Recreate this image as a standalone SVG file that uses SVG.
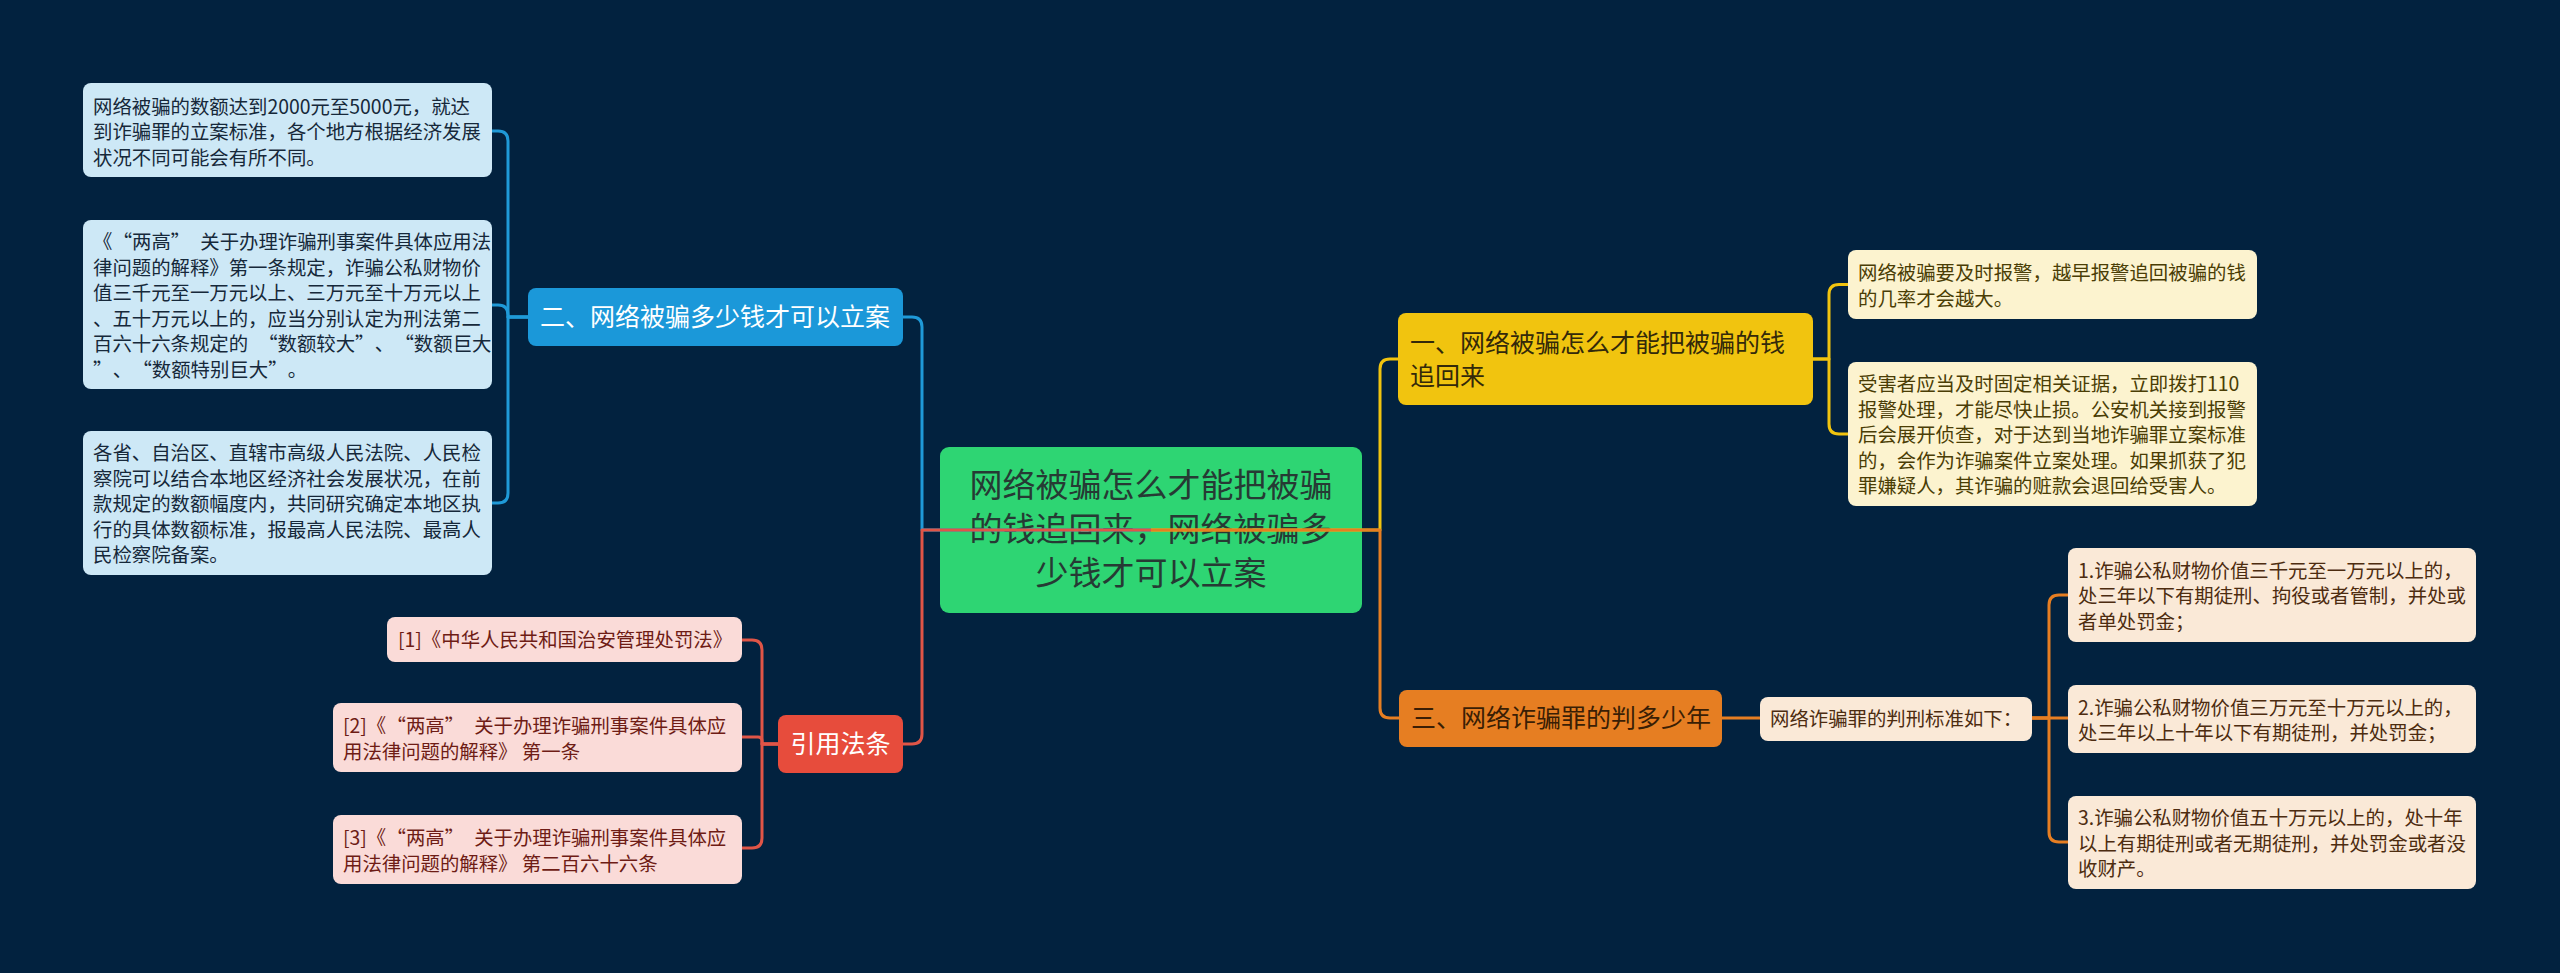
<svg xmlns="http://www.w3.org/2000/svg" width="2560" height="973" viewBox="0 0 2560 973">
<style>
text{font-family:"Noto Sans CJK SC","Noto Sans",sans-serif;}
.leaf{font-size:19.4px;}
.br{font-size:25px;}
.ctr{font-size:33px;fill:#263a34;}
.lb{fill:#cde8f6;} .tb{fill:#16283a;}
.lr{fill:#fadbd8;} .tr{fill:#6e1c15;}
.ly{fill:#fcf3cf;} .ty{fill:#4a3d05;}
.lo{fill:#fae9d7;} .to{fill:#4d2c10;}
.c{fill:none;stroke-width:3;stroke-linejoin:round;}
.cb{stroke:#1f9ad8;} .cr{stroke:#e05547;} .cy{stroke:#f1c40f;} .co{stroke:#e67e22;}
</style>
<rect x="0" y="0" width="2560" height="973" fill="#02223f"/>

<g id="center">
<rect x="940" y="447" width="422" height="166" rx="9" fill="#2ed573"/>
<text class="ctr" text-anchor="middle"><tspan x="1151" y="497">网络被骗怎么才能把被骗</tspan><tspan x="1151" y="541">的钱追回来，网络被骗多</tspan><tspan x="1151" y="585">少钱才可以立案</tspan></text>
</g>

<g id="b2">
<rect x="528" y="288" width="375" height="58" rx="8" fill="#1b98d9"/>
<text class="br" x="540" y="326" fill="#ffffff">二、网络被骗多少钱才可以立案</text>
</g>
<g id="b2-1">
<rect class="lb" x="83" y="83" width="409" height="94" rx="8"/>
<text class="leaf tb"><tspan x="93" y="113.5">网络被骗的数额达到2000元至5000元，就达</tspan><tspan x="93" y="139">到诈骗罪的立案标准，各个地方根据经济发展</tspan><tspan x="93" y="164.5">状况不同可能会有所不同。</tspan></text>
</g>
<g id="b2-2">
<rect class="lb" x="83" y="220" width="409" height="169" rx="8"/>
<text class="leaf tb"><tspan x="93" y="249">《<tspan dx="10">“两高”</tspan><tspan dx="10">关于办理诈骗刑事案件具体应用法</tspan></tspan><tspan x="93" y="274.5">律问题的解释》第一条规定，诈骗公私财物价</tspan><tspan x="93" y="300">值三千元至一万元以上、三万元至十万元以上</tspan><tspan x="93" y="325.5">、五十万元以上的，应当分别认定为刑法第二</tspan><tspan x="93" y="351">百六十六条规定的<tspan dx="10">“数额较大”</tspan><tspan dx="10">、</tspan><tspan dx="10">“数额巨大</tspan></tspan><tspan x="93" y="376.5">”<tspan dx="10">、</tspan><tspan dx="10">“数额特别巨大”</tspan><tspan dx="10">。</tspan></tspan></text>
</g>
<g id="b2-3">
<rect class="lb" x="83" y="431" width="409" height="144" rx="8"/>
<text class="leaf tb"><tspan x="93" y="460">各省、自治区、直辖市高级人民法院、人民检</tspan><tspan x="93" y="485.5">察院可以结合本地区经济社会发展状况，在前</tspan><tspan x="93" y="511">款规定的数额幅度内，共同研究确定本地区执</tspan><tspan x="93" y="536.5">行的具体数额标准，报最高人民法院、最高人</tspan><tspan x="93" y="562">民检察院备案。</tspan></text>
</g>

<g id="ref">
<rect x="778" y="715" width="125" height="58" rx="8" fill="#e74c3c"/>
<text class="br" x="840.5" y="753" fill="#ffffff" text-anchor="middle">引用法条</text>
</g>
<g id="ref-1">
<rect class="lr" x="387" y="617" width="355" height="45" rx="8"/>
<text class="leaf tr" x="398" y="647">[1]《中华人民共和国治安管理处罚法》</text>
</g>
<g id="ref-2">
<rect class="lr" x="333" y="703" width="409" height="69" rx="8"/>
<text class="leaf tr"><tspan x="343" y="733">[2]《<tspan dx="10">“两高”</tspan><tspan dx="10">关于办理诈骗刑事案件具体应</tspan></tspan><tspan x="343" y="758.5">用法律问题的解释》 第一条</tspan></text>
</g>
<g id="ref-3">
<rect class="lr" x="333" y="815" width="409" height="69" rx="8"/>
<text class="leaf tr"><tspan x="343" y="845">[3]《<tspan dx="10">“两高”</tspan><tspan dx="10">关于办理诈骗刑事案件具体应</tspan></tspan><tspan x="343" y="870.5">用法律问题的解释》 第二百六十六条</tspan></text>
</g>

<g id="b1">
<rect x="1398" y="313" width="415" height="92" rx="8" fill="#f1c40f"/>
<text class="br" fill="#33290a"><tspan x="1410" y="351.5">一、网络被骗怎么才能把被骗的钱</tspan><tspan x="1410" y="384.5">追回来</tspan></text>
</g>
<g id="b1-1">
<rect class="ly" x="1848" y="250" width="409" height="69" rx="8"/>
<text class="leaf ty"><tspan x="1858" y="280">网络被骗要及时报警，越早报警追回被骗的钱</tspan><tspan x="1858" y="305.5">的几率才会越大。</tspan></text>
</g>
<g id="b1-2">
<rect class="ly" x="1848" y="362" width="409" height="144" rx="8"/>
<text class="leaf ty"><tspan x="1858" y="391">受害者应当及时固定相关证据，立即拨打110</tspan><tspan x="1858" y="416.5">报警处理，才能尽快止损。公安机关接到报警</tspan><tspan x="1858" y="442">后会展开侦查，对于达到当地诈骗罪立案标准</tspan><tspan x="1858" y="467.5">的，会作为诈骗案件立案处理。如果抓获了犯</tspan><tspan x="1858" y="493">罪嫌疑人，其诈骗的赃款会退回给受害人。</tspan></text>
</g>

<g id="b3">
<rect x="1399" y="690" width="323" height="57" rx="8" fill="#e67e22"/>
<text class="br" x="1411" y="727" fill="#3a1e05">三、网络诈骗罪的判多少年</text>
</g>
<g id="b3-0">
<rect class="lo" x="1760" y="697" width="272" height="44" rx="8"/>
<text class="leaf to" x="1770" y="726">网络诈骗罪的判刑标准如下：</text>
</g>
<g id="b3-1">
<rect class="lo" x="2068" y="548" width="408" height="94" rx="8"/>
<text class="leaf to"><tspan x="2078" y="577.5">1.诈骗公私财物价值三千元至一万元以上的，</tspan><tspan x="2078" y="603">处三年以下有期徒刑、拘役或者管制，并处或</tspan><tspan x="2078" y="628.5">者单处罚金；</tspan></text>
</g>
<g id="b3-2">
<rect class="lo" x="2068" y="685" width="408" height="68" rx="8"/>
<text class="leaf to"><tspan x="2078" y="714.5">2.诈骗公私财物价值三万元至十万元以上的，</tspan><tspan x="2078" y="740">处三年以上十年以下有期徒刑，并处罚金；</tspan></text>
</g>
<g id="b3-3">
<rect class="lo" x="2068" y="796" width="408" height="93" rx="8"/>
<text class="leaf to"><tspan x="2078" y="825">3.诈骗公私财物价值五十万元以上的，处十年</tspan><tspan x="2078" y="850.5">以上有期徒刑或者无期徒刑，并处罚金或者没</tspan><tspan x="2078" y="876">收财产。</tspan></text>
</g>

<g id="connectors">
<path class="c cb" d="M1151 530 H922 V327 Q922 317 912 317 H903"/>
<path class="c cb" d="M528 317 H508 V141 Q508 131 498 131 H492"/>
<path class="c cb" d="M528 317 H508 V315 Q508 305 498 305 H492"/>
<path class="c cb" d="M528 317 H508 V493 Q508 503 498 503 H492"/>
<path class="c cr" d="M1151 530 H922 V734 Q922 744 912 744 H903"/>
<path class="c cr" d="M778 744 H762 V650 Q762 640 752 640 H742"/>
<path class="c cr" d="M778 744 H762 V741 Q762 737 758 737 H742"/>
<path class="c cr" d="M778 744 H762 V838 Q762 848 752 848 H742"/>
<path class="c cy" d="M1151 530 H1380 V369 Q1380 359 1390 359 H1398"/>
<path class="c cy" d="M1813 359 H1829 V294.5 Q1829 284.5 1839 284.5 H1848"/>
<path class="c cy" d="M1813 359 H1829 V424 Q1829 434 1839 434 H1848"/>
<path class="c co" d="M1151 530 H1380 V708 Q1380 718 1390 718 H1399"/>
<path class="c co" d="M1722 718 H1760"/>
<path class="c co" d="M2032 718 H2049 V605 Q2049 595 2059 595 H2068"/>
<path class="c co" d="M2032 718 H2068"/>
<path class="c co" d="M2032 718 H2049 V832 Q2049 842 2059 842 H2068"/>
</g>
</svg>
